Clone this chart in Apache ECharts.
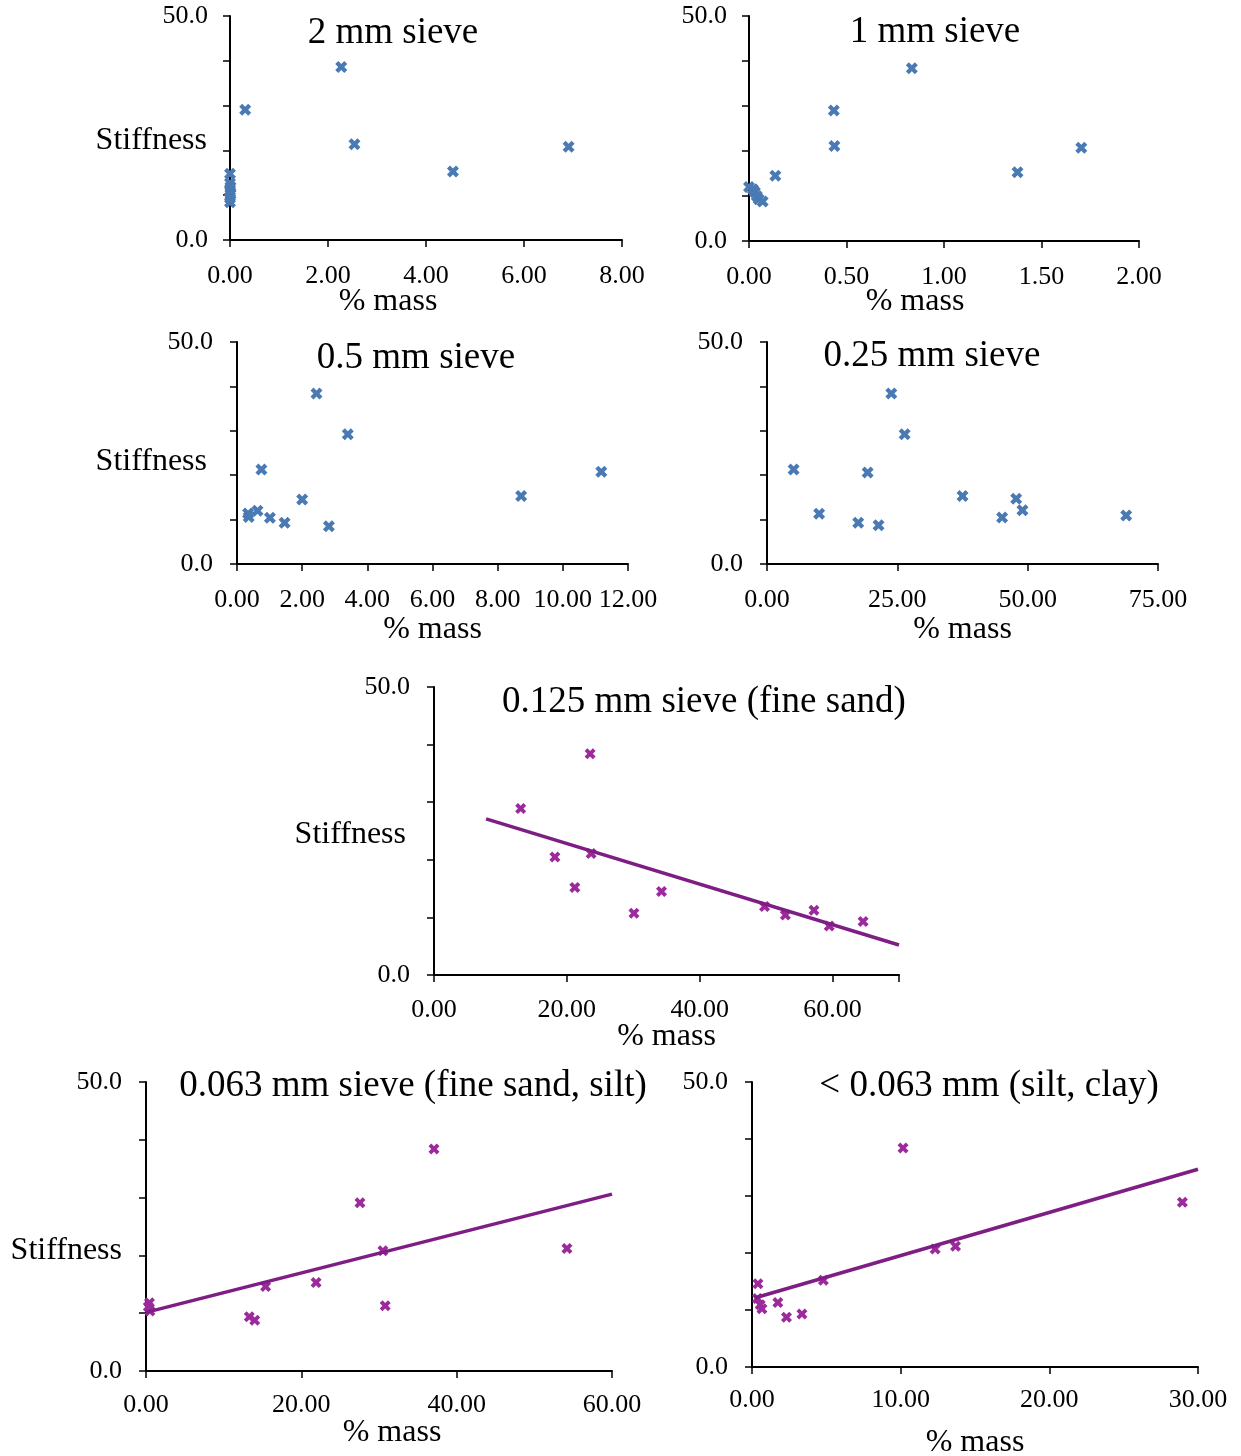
<!DOCTYPE html>
<html>
<head>
<meta charset="utf-8">
<script src="https://cdn.jsdelivr.net/npm/echarts@6/dist/echarts.min.js"></script>
<style>
html,body{margin:0;padding:0;background:#fff;}
#chart{width:1241px;height:1456px;}
</style>
</head>
<body>
<div id="chart"></div>
<script>
// ---- data ----
const panelTitles = ["2 mm sieve", "1 mm sieve", "0.5 mm sieve", "0.25 mm sieve",
  "0.125 mm sieve (fine sand)", "0.063 mm sieve (fine sand, silt)", "< 0.063 mm (silt, clay)"];

const mass2mm  = [2.27, 0.31, 2.54, 4.55, 6.91, 0.00, 0.00, 0.01, 0.00, 0.01, 0.00, 0.00];
const stiff2mm = [38.6, 29.1, 21.4, 15.3, 20.8, 14.8, 12.7, 11.9, 11.0, 10.2, 9.3, 8.4];

const mass1mm  = [0.835, 0.435, 0.438, 1.377, 1.704, 0.135, 0.00, 0.02, 0.03, 0.04, 0.05, 0.07];
const stiff1mm = [38.4, 29.0, 21.1, 15.3, 20.7, 14.5, 12.0, 11.5, 10.9, 10.0, 9.3, 8.8];

const mass05mm  = [2.44, 3.40, 0.75, 11.18, 8.72, 2.00, 0.63, 0.34, 0.36, 1.01, 1.46, 2.82];
const stiff05mm = [38.4, 29.2, 21.3, 20.8, 15.3, 14.5, 12.0, 11.4, 10.6, 10.4, 9.3, 8.5];

const mass025mm  = [23.85, 26.4, 5.1, 19.3, 37.5, 47.8, 49.0, 10.0, 45.1, 68.9, 17.5, 21.4];
const stiff025mm = [38.4, 29.2, 21.3, 20.6, 15.3, 14.7, 12.1, 11.3, 10.5, 10.9, 9.3, 8.7];

const mass0125mm  = [13.05, 23.5, 18.2, 23.65, 21.2, 30.1, 34.25, 49.76, 52.9, 57.2, 59.5, 64.6];
const stiff0125mm = [28.9, 38.4, 20.5, 21.1, 15.2, 10.7, 14.5, 11.9, 10.4, 11.25, 8.5, 9.3];
const trend0125mmX = [7.84, 70];
const trend0125mmY = [27.1, 5.2];

const mass0063mm  = [37.08, 27.55, 30.5, 54.2, 21.9, 15.4, 30.8, 13.3, 14.0, 0.45, 0.30, 0.50];
const stiff0063mm = [38.4, 29.1, 20.8, 21.2, 15.3, 14.6, 11.3, 9.4, 8.8, 11.8, 11.1, 10.4];
const trend0063mmX = [0, 60];
const trend0063mmY = [10.15, 30.6];

const massFines  = [10.16, 28.95, 12.32, 13.69, 4.80, 0.40, 1.74, 2.32, 3.36, 0.37, 0.55, 0.67];
const stiffFines = [38.4, 28.9, 20.7, 21.2, 15.2, 14.6, 11.3, 8.75, 9.3, 12.0, 10.9, 10.2];
const trendFinesX = [0.17, 30];
const trendFinesY = [12.1, 34.7];

const xMax      = [8, 2, 12, 75, 70, 60, 30];
const xInterval = [2, 0.5, 2, 25, 20, 20, 10];
const xLabelHide = [null, null, null, null, 70, null, null];
const yMin = 0, yMax = 50, yInterval = 10;
const yTickLabels = [0, 50];
const xName = "% mass";
const yName = "Stiffness";

// ---- layout ----
const FONT = '"Liberation Serif", "Times New Roman", serif';
const BLUE = '#4A7AB4';
const PURPLE = '#9C2A9C';
const TREND = '#7E1E84';
const XSYM = 'path://M0,3 L3,0 L6,3 L9,0 L12,3 L9,6 L12,9 L9,12 L6,9 L3,12 L0,9 L3,6 Z';

const grids = [
  {left: 230, top: 16,  width: 392, height: 224},
  {left: 749, top: 16,  width: 390, height: 225},
  {left: 237, top: 342, width: 391, height: 222},
  {left: 767, top: 342, width: 391, height: 222},
  {left: 434, top: 687, width: 465, height: 288},
  {left: 146, top: 1082, width: 466, height: 289},
  {left: 752, top: 1082, width: 446, height: 285}
];
const titlePos = [[393, 33], [935, 32], [416, 358], [932, 356], [704, 702], [413, 1086], [989, 1086]];
const yNamePos = [[207, 141], null, [207, 462], null, [406, 835], [122, 1251], null];
const yLabelMargin = [22, 22, 24, 24, 24, 24, 24];
const xNameGap = [46, 45, 50, 50, 46, 46, 60];
const xNamePad = [[0, 76, 0, 0], [0, 58, 0, 0], 0, 0, 0, [0, 0, 0, 26], 0];
const xLabelMargin = [23, 23, 23, 23, 22, 21, 20];

const panels = [
  {x: mass2mm, y: stiff2mm, color: BLUE, size: 12},
  {x: mass1mm, y: stiff1mm, color: BLUE, size: 12},
  {x: mass05mm, y: stiff05mm, color: BLUE, size: 12},
  {x: mass025mm, y: stiff025mm, color: BLUE, size: 12},
  {x: mass0125mm, y: stiff0125mm, color: PURPLE, size: 11, tx: trend0125mmX, ty: trend0125mmY},
  {x: mass0063mm, y: stiff0063mm, color: PURPLE, size: 11, tx: trend0063mmX, ty: trend0063mmY},
  {x: massFines, y: stiffFines, color: PURPLE, size: 11, tx: trendFinesX, ty: trendFinesY}
];

const xAxes = [], yAxes = [], series = [], graphics = [];
panels.forEach((p, i) => {
  xAxes.push({
    type: 'value', gridIndex: i, min: 0, max: xMax[i], interval: xInterval[i],
    name: xName, nameLocation: 'middle', nameGap: xNameGap[i], nameMoveOverlap: false,
    nameTextStyle: {fontFamily: FONT, fontSize: 32, color: '#000', padding: xNamePad[i]},
    axisLine: {show: true, onZero: false, lineStyle: {color: '#000', width: 2}},
    axisTick: {show: true, inside: false, length: 7, lineStyle: {color: '#000', width: 1.5}},
    axisLabel: {
      fontFamily: FONT, fontSize: 26, color: '#000', margin: xLabelMargin[i], hideOverlap: false,
      formatter: (v) => (xLabelHide[i] !== null && Math.abs(v - xLabelHide[i]) < 1e-9) ? '' : v.toFixed(2)
    },
    splitLine: {show: false}
  });
  yAxes.push({
    type: 'value', gridIndex: i, min: yMin, max: yMax, interval: yInterval,
    axisLine: {show: true, lineStyle: {color: '#000', width: 2}},
    axisTick: {show: true, inside: false, length: 7, lineStyle: {color: '#000', width: 1.5}},
    axisLabel: {
      fontFamily: FONT, fontSize: 26, color: '#000', margin: yLabelMargin[i],
      formatter: (v) => yTickLabels.indexOf(v) >= 0 ? v.toFixed(1) : ''
    },
    splitLine: {show: false}
  });
  series.push({
    type: 'scatter', xAxisIndex: i, yAxisIndex: i,
    symbol: XSYM, symbolSize: p.size,
    itemStyle: {color: p.color, opacity: 1},
    data: p.x.map((v, k) => [v, p.y[k]]),
    z: 3
  });
  if (p.tx) {
    series.push({
      type: 'line', xAxisIndex: i, yAxisIndex: i,
      showSymbol: false, symbol: 'none',
      lineStyle: {color: TREND, width: 3.5},
      data: p.tx.map((v, k) => [v, p.ty[k]]),
      z: 4, silent: true
    });
  }
  graphics.push({
    type: 'text', x: titlePos[i][0], y: titlePos[i][1],
    style: {text: panelTitles[i], fontFamily: FONT, fontSize: 37, fill: '#000',
      textAlign: 'center', textVerticalAlign: 'middle'}
  });
  if (yNamePos[i]) {
    graphics.push({
      type: 'text', x: yNamePos[i][0], y: yNamePos[i][1],
      style: {text: yName, fontFamily: FONT, fontSize: 32, fill: '#000',
        textAlign: 'right', textVerticalAlign: 'middle'}
    });
  }
});

const chart = echarts.init(document.getElementById('chart'), null, {renderer: 'canvas'});
chart.setOption({
  backgroundColor: '#fff',
  animation: false,
  grid: grids.map(g => Object.assign({containLabel: false, outerBoundsMode: 'none'}, g)),
  xAxis: xAxes,
  yAxis: yAxes,
  series: series,
  graphic: graphics
});
</script>
</body>
</html>
